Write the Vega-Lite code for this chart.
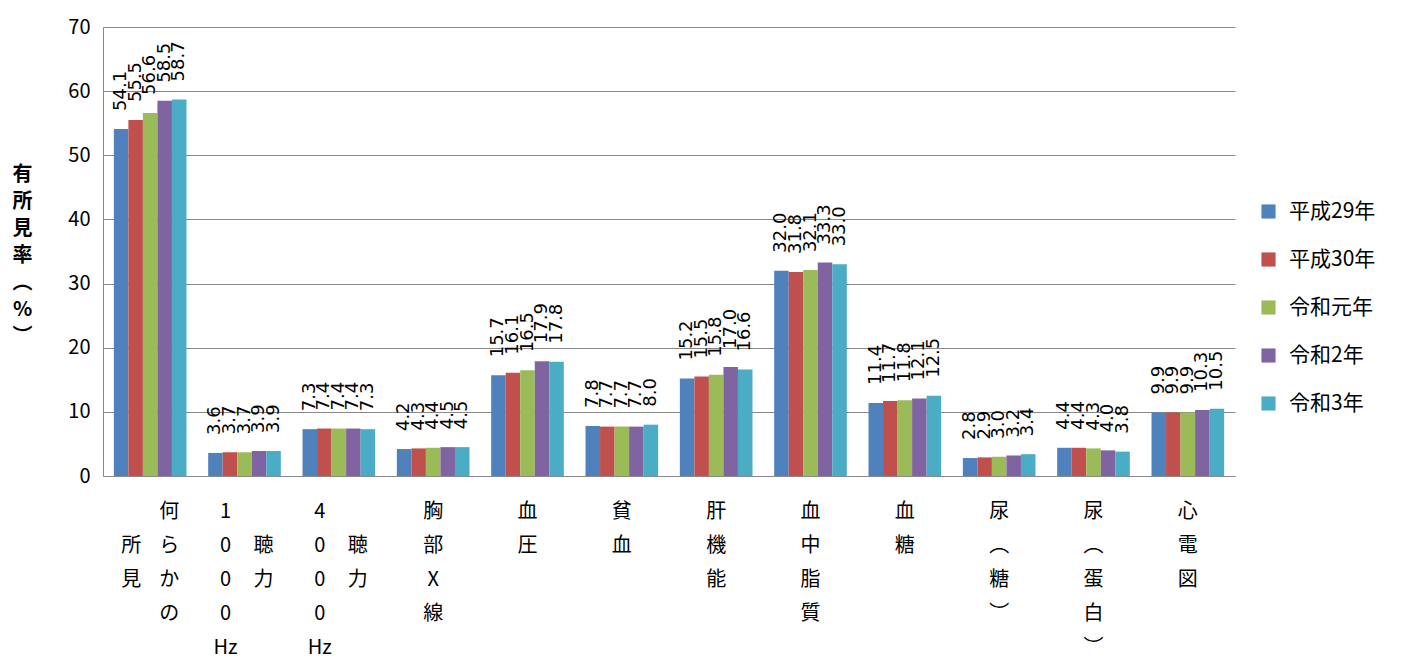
{
  "$schema": "https://vega.github.io/schema/vega-lite/v6.json",
  "width": 1132,
  "height": 449,
  "autosize": {"type": "none"},
  "padding": {"left": 103, "top": 27, "right": 166, "bottom": 194},
  "background": "white",
  "config": {
    "view": {"stroke": null},
    "font": "Noto Sans CJK JP"
  },
  "datasets": {
    "bars": [
      {"cat": "何らかの所見", "year": "平成29年", "value": 54.1},
      {"cat": "何らかの所見", "year": "平成30年", "value": 55.5},
      {"cat": "何らかの所見", "year": "令和元年", "value": 56.6},
      {"cat": "何らかの所見", "year": "令和2年", "value": 58.5},
      {"cat": "何らかの所見", "year": "令和3年", "value": 58.7},
      {"cat": "1000Hz聴力", "year": "平成29年", "value": 3.6},
      {"cat": "1000Hz聴力", "year": "平成30年", "value": 3.7},
      {"cat": "1000Hz聴力", "year": "令和元年", "value": 3.7},
      {"cat": "1000Hz聴力", "year": "令和2年", "value": 3.9},
      {"cat": "1000Hz聴力", "year": "令和3年", "value": 3.9},
      {"cat": "4000Hz聴力", "year": "平成29年", "value": 7.3},
      {"cat": "4000Hz聴力", "year": "平成30年", "value": 7.4},
      {"cat": "4000Hz聴力", "year": "令和元年", "value": 7.4},
      {"cat": "4000Hz聴力", "year": "令和2年", "value": 7.4},
      {"cat": "4000Hz聴力", "year": "令和3年", "value": 7.3},
      {"cat": "胸部X線", "year": "平成29年", "value": 4.2},
      {"cat": "胸部X線", "year": "平成30年", "value": 4.3},
      {"cat": "胸部X線", "year": "令和元年", "value": 4.4},
      {"cat": "胸部X線", "year": "令和2年", "value": 4.5},
      {"cat": "胸部X線", "year": "令和3年", "value": 4.5},
      {"cat": "血圧", "year": "平成29年", "value": 15.7},
      {"cat": "血圧", "year": "平成30年", "value": 16.1},
      {"cat": "血圧", "year": "令和元年", "value": 16.5},
      {"cat": "血圧", "year": "令和2年", "value": 17.9},
      {"cat": "血圧", "year": "令和3年", "value": 17.8},
      {"cat": "貧血", "year": "平成29年", "value": 7.8},
      {"cat": "貧血", "year": "平成30年", "value": 7.7},
      {"cat": "貧血", "year": "令和元年", "value": 7.7},
      {"cat": "貧血", "year": "令和2年", "value": 7.7},
      {"cat": "貧血", "year": "令和3年", "value": 8.0},
      {"cat": "肝機能", "year": "平成29年", "value": 15.2},
      {"cat": "肝機能", "year": "平成30年", "value": 15.5},
      {"cat": "肝機能", "year": "令和元年", "value": 15.8},
      {"cat": "肝機能", "year": "令和2年", "value": 17.0},
      {"cat": "肝機能", "year": "令和3年", "value": 16.6},
      {"cat": "血中脂質", "year": "平成29年", "value": 32.0},
      {"cat": "血中脂質", "year": "平成30年", "value": 31.8},
      {"cat": "血中脂質", "year": "令和元年", "value": 32.1},
      {"cat": "血中脂質", "year": "令和2年", "value": 33.3},
      {"cat": "血中脂質", "year": "令和3年", "value": 33.0},
      {"cat": "血糖", "year": "平成29年", "value": 11.4},
      {"cat": "血糖", "year": "平成30年", "value": 11.7},
      {"cat": "血糖", "year": "令和元年", "value": 11.8},
      {"cat": "血糖", "year": "令和2年", "value": 12.1},
      {"cat": "血糖", "year": "令和3年", "value": 12.5},
      {"cat": "尿（糖）", "year": "平成29年", "value": 2.8},
      {"cat": "尿（糖）", "year": "平成30年", "value": 2.9},
      {"cat": "尿（糖）", "year": "令和元年", "value": 3.0},
      {"cat": "尿（糖）", "year": "令和2年", "value": 3.2},
      {"cat": "尿（糖）", "year": "令和3年", "value": 3.4},
      {"cat": "尿（蛋白）", "year": "平成29年", "value": 4.4},
      {"cat": "尿（蛋白）", "year": "平成30年", "value": 4.4},
      {"cat": "尿（蛋白）", "year": "令和元年", "value": 4.3},
      {"cat": "尿（蛋白）", "year": "令和2年", "value": 4.0},
      {"cat": "尿（蛋白）", "year": "令和3年", "value": 3.8},
      {"cat": "心電図", "year": "平成29年", "value": 9.9},
      {"cat": "心電図", "year": "平成30年", "value": 9.9},
      {"cat": "心電図", "year": "令和元年", "value": 9.9},
      {"cat": "心電図", "year": "令和2年", "value": 10.3},
      {"cat": "心電図", "year": "令和3年", "value": 10.5}
    ],
    "labels": [
      {"cat": "何らかの所見", "left": "\n所\n見", "right": "何\nら\nか\nの", "mid": ""},
      {"cat": "1000Hz聴力", "left": "1\n0\n0\n0\nHz", "right": "\n\n聴\n力", "mid": ""},
      {"cat": "4000Hz聴力", "left": "4\n0\n0\n0\nHz", "right": "\n\n聴\n力", "mid": ""},
      {"cat": "胸部X線", "left": "", "right": "", "mid": "胸\n部\nX\n線"},
      {"cat": "血圧", "left": "", "right": "", "mid": "血\n圧"},
      {"cat": "貧血", "left": "", "right": "", "mid": "貧\n血"},
      {"cat": "肝機能", "left": "", "right": "", "mid": "肝\n機\n能"},
      {"cat": "血中脂質", "left": "", "right": "", "mid": "血\n中\n脂\n質"},
      {"cat": "血糖", "left": "", "right": "", "mid": "血\n糖"},
      {"cat": "尿（糖）", "left": "", "right": "", "mid": "尿\n︵\n糖\n︶"},
      {"cat": "尿（蛋白）", "left": "", "right": "", "mid": "尿\n︵\n蛋\n白\n︶"},
      {"cat": "心電図", "left": "", "right": "", "mid": "心\n電\n図"}
    ]
  },
  "layer": [
    {
      "data": {"name": "bars"},
      "mark": {"type": "bar"},
      "encoding": {
        "x": {
          "field": "cat", "type": "nominal",
          "scale": {
            "domain": ["何らかの所見", "1000Hz聴力", "4000Hz聴力", "胸部X線", "血圧", "貧血", "肝機能", "血中脂質", "血糖", "尿（糖）", "尿（蛋白）", "心電図"],
            "paddingInner": 0.23, "paddingOuter": 0.115
          },
          "axis": {"labels": false, "ticks": false, "title": null, "domainColor": "#888888", "domainWidth": 1}
        },
        "xOffset": {
          "field": "year", "type": "nominal",
          "scale": {"domain": ["平成29年", "平成30年", "令和元年", "令和2年", "令和3年"], "paddingInner": 0, "paddingOuter": 0}
        },
        "y": {
          "field": "value", "type": "quantitative",
          "scale": {"domain": [0, 70], "nice": false},
          "axis": {
            "values": [0, 10, 20, 30, 40, 50, 60, 70],
            "ticks": false,
            "grid": true,
            "gridColor": "#888888",
            "gridWidth": 1,
            "domainColor": "#888888",
            "labelFontSize": 20,
            "labelColor": "#000000",
            "labelPadding": 13,
            "labelFont": "Noto Sans CJK JP",
            "title": ["有", "所", "見", "率", "︵", "%", "︶"],
            "titleAngle": 0,
            "titleFontSize": 20,
            "titleFontWeight": "bold",
            "titleLineHeight": 27,
            "titleColor": "#000000",
            "titleX": -81,
            "titleY": 137,
            "titleAlign": "center",
            "titleBaseline": "top"
          }
        },
        "color": {
          "field": "year", "type": "nominal",
          "scale": {
            "domain": ["平成29年", "平成30年", "令和元年", "令和2年", "令和3年"],
            "range": ["#4F81BD", "#C0504D", "#9BBB59", "#8064A2", "#4BACC6"]
          },
          "legend": {
            "orient": "none",
            "legendX": 1155,
            "legendY": 174,
            "title": null,
            "symbolType": "square",
            "symbolSize": 200,
            "symbolStrokeWidth": 0,
            "labelFontSize": 21,
            "labelFont": "Noto Sans CJK JP",
            "labelColor": "#000000",
            "labelOffset": 10,
            "rowPadding": 26,
            "labelLimit": 300
          }
        }
      }
    },
    {
      "data": {"name": "bars"},
      "mark": {"type": "text", "angle": 270, "align": "left", "baseline": "middle", "dx": 18, "font": "DejaVu Sans", "fontSize": 18, "color": "#000000"},
      "encoding": {
        "x": {"field": "cat", "type": "nominal"},
        "xOffset": {"field": "year", "type": "nominal"},
        "y": {"field": "value", "type": "quantitative"},
        "text": {"field": "value", "type": "quantitative", "format": ".1f"}
      }
    },
    {
      "data": {"name": "labels"},
      "mark": {"type": "text", "align": "center", "baseline": "top", "dx": -19, "dy": 26, "lineBreak": "\n", "lineHeight": 34, "fontSize": 20, "color": "#000000"},
      "encoding": {
        "x": {"field": "cat", "type": "nominal"},
        "y": {"datum": 0, "type": "quantitative"},
        "text": {"field": "left"}
      }
    },
    {
      "data": {"name": "labels"},
      "mark": {"type": "text", "align": "center", "baseline": "top", "dx": 19, "dy": 26, "lineBreak": "\n", "lineHeight": 34, "fontSize": 20, "color": "#000000"},
      "encoding": {
        "x": {"field": "cat", "type": "nominal"},
        "y": {"datum": 0, "type": "quantitative"},
        "text": {"field": "right"}
      }
    },
    {
      "data": {"name": "labels"},
      "mark": {"type": "text", "align": "center", "baseline": "top", "dx": 0, "dy": 26, "lineBreak": "\n", "lineHeight": 34, "fontSize": 20, "color": "#000000"},
      "encoding": {
        "x": {"field": "cat", "type": "nominal"},
        "y": {"datum": 0, "type": "quantitative"},
        "text": {"field": "mid"}
      }
    }
  ]
}
